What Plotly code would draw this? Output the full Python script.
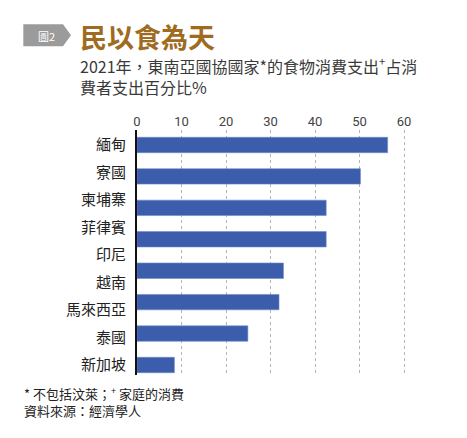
import plotly.graph_objects as go

# ---- data ----
countries = ["緬甸", "寮國", "柬埔寨", "菲律賓", "印尼", "越南", "馬來西亞", "泰國", "新加坡"]
bar_values = [56.3, 50.2, 42.5, 42.5, 32.9, 31.9, 24.9, 8.4]
x_ticks = [0, 10, 20, 30, 40, 50, 60]

title = "民以食為天"
badge = "圖2"
subtitle = "2021年，東南亞國協國家*的食物消費支出<sup>+</sup>占消<br>費者支出百分比%"
notes = "* 不包括汶萊；<sup>+</sup> 家庭的消費<br>資料來源：經濟學人"

# ---- layout geometry ----
W, H = 467, 438
L, R, T, B = 137, 54, 130, 63
PW = W - L - R
PH = H - T - B

def px(x):
    return (x - L) / PW

def py(y):
    return (T + PH - y) / PH

CJK = "Noto Sans CJK TC"
bar_color = "#3b5dab"

fig = go.Figure()
fig.add_trace(go.Bar(
    x=bar_values, y=list(range(len(bar_values))), orientation="h",
    width=0.49, marker=dict(color=bar_color, line=dict(color="#6f8bc6", width=0.6)),
    yaxis="y", hoverinfo="x",
))
fig.add_trace(go.Scatter(
    x=[0] * len(countries), y=countries, yaxis="y2", mode="markers",
    marker=dict(opacity=0, size=1), hoverinfo="skip", showlegend=False,
))

fig.update_layout(
    width=W, height=H,
    margin=dict(l=L, r=R, t=T, b=B, pad=0, autoexpand=False),
    paper_bgcolor="white", plot_bgcolor="white",
    showlegend=False,
    font=dict(family=CJK, color="#222"),
    xaxis=dict(
        side="top", range=[0, 62], tickvals=x_ticks, automargin=False,
        showgrid=True, gridcolor="#b5b5b5", griddash="dot", gridwidth=1,
        zeroline=False, showline=False, ticks="",
        tickfont=dict(family="Liberation Sans Narrow, Roboto", size=13, color="#444"),
    ),
    yaxis=dict(
        range=[7.318, -0.477], showticklabels=False, showgrid=False, automargin=False,
        zeroline=False, showline=True, linecolor="#111", linewidth=1.5,
    ),
    yaxis2=dict(
        overlaying="y", side="left", type="category", automargin=False,
        range=[8.364, -0.545], showgrid=False, zeroline=False, showline=False,
        ticks="", ticklabelstandoff=10,
        tickfont=dict(family=CJK, size=15, color="#222"),
    ),
)

# badge arrow
x0, x1, x2 = px(23.3), px(63), px(71)
y0, ym, y1 = py(24.3), py(35.3), py(46.3)
fig.add_shape(type="path", xref="paper", yref="paper",
              path=f"M {x0},{y0} L {x1},{y0} L {x2},{ym} L {x1},{y1} L {x0},{y1} Z",
              fillcolor="#9b9b9b", line=dict(width=0))

ann = [
    dict(text=badge, x=px(46), y=py(35.5), xanchor="center", yanchor="middle",
         font=dict(size=11, color="white", family=CJK)),
    dict(text=f"<b>{title}</b>", x=px(78), y=py(36.5), xanchor="left", yanchor="middle",
         font=dict(size=27, color="#9e6b1f", family=CJK)),
    dict(text=subtitle, x=px(78), y=py(75.5), xanchor="left", yanchor="middle", align="left",
         font=dict(size=16, color="#3a3a3a", family=CJK)),
    dict(text=notes, x=px(22), y=py(401), xanchor="left", yanchor="middle", align="left",
         font=dict(size=13, color="#222", family=CJK)),
]
for a in ann:
    fig.add_annotation(xref="paper", yref="paper", showarrow=False, **a)

fig.write_html("out.html", config={"displayModeBar": False},
               post_script="document.body.style.margin='0';")
